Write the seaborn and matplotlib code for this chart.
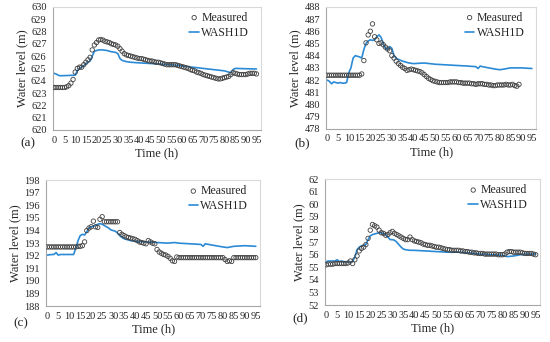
import matplotlib
matplotlib.use("Agg")
import matplotlib.pyplot as plt
import seaborn as sns

# ---- data (hourly measured, WASH1D at knot times) ----
meas_a = [623.45, 623.45, 623.45, 623.45, 623.45, 623.45, 623.5, 623.6, 623.8, 624.1,
          624.7, 625.0, 625.1, 625.1, 625.3, 625.5, 625.7, 625.9, 626.5, 626.9,
          627.1, 627.3, 627.35, 627.3, 627.2, 627.15, 627.1, 627.0, 626.95, 626.9,
          626.8, 626.6, 626.4, 626.2, 626.1, 626.05, 626.0, 625.95, 625.9, 625.85,
          625.8, 625.8, 625.75, 625.7, 625.65, 625.6, 625.6, 625.55, 625.5, 625.5,
          625.45, 625.4, 625.35, 625.3, 625.3, 625.3, 625.3, 625.3, 625.25, 625.2,
          625.15, 625.1, 625.05, 625.0, 624.9, 624.85, 624.8, 624.7, 624.65, 624.6,
          624.5, 624.45, 624.4, 624.35, 624.3, 624.25, 624.2, 624.15, 624.15, 624.2,
          624.25, 624.3, 624.35, 624.5, 624.65, 624.6, 624.55, 624.5, 624.5, 624.5,
          624.5, 624.55, 624.6, 624.6, 624.6, 624.55]
wash_a_t = [0, 1, 2, 3, 10, 11, 12, 13, 14, 15, 16, 17, 18, 19, 21, 23, 25, 27, 29, 30,
            31, 32, 34, 36, 40, 45, 50, 55, 60, 65, 70, 75, 80, 82, 83, 84, 85, 95]
wash_a = [624.6, 624.55, 624.45, 624.4, 624.45, 624.8, 625.0, 625.1, 625.2, 625.4,
          625.5, 625.6, 626.0, 626.4, 626.5, 626.5, 626.45, 626.35, 626.3, 626.2,
          625.8, 625.65, 625.55, 625.5, 625.45, 625.4, 625.35, 625.3, 625.2, 625.1,
          625.0, 624.9, 624.8, 624.7, 624.65, 624.9, 625.0, 624.95]

meas_b = [482.4] * 16 + [
          482.5, 483.6, 485.05, 485.7,
          486.0, 486.6, 485.55, 485.3, 485.0, 485.05, 484.9, 484.7, 484.55, 484.4,
          484.0, 483.8, 483.55, 483.35, 483.2, 483.05, 482.95, 482.8, 482.85, 482.9,
          482.85, 482.8, 482.75, 482.7, 482.6, 482.45, 482.3, 482.15, 482.05, 481.95,
          481.9, 481.85, 481.8, 481.8, 481.8, 481.8, 481.8, 481.85, 481.85, 481.85,
          481.85, 481.8, 481.8, 481.75, 481.75, 481.75, 481.75, 481.7, 481.7, 481.65,
          481.7, 481.7, 481.7, 481.65, 481.65, 481.6, 481.6, 481.55, 481.55, 481.6,
          481.6, 481.6, 481.6, 481.65, 481.6, 481.6, 481.65, 481.55, 481.5, 481.65]
wash_b_t = [0, 1, 2, 3, 4, 5, 6, 7, 8, 9, 10, 11, 12, 13, 15, 16, 17, 18, 19, 20,
            21, 22, 23, 24, 25, 26, 27, 28, 29, 30, 31, 32, 33, 35, 38, 40, 45, 50, 55, 60,
            65, 69, 70, 71, 72, 75, 78, 80, 82, 85, 90, 95]
wash_b = [482.0, 481.9, 481.7, 481.85, 481.8, 481.75, 481.8, 481.75, 481.75, 481.8,
          482.6, 483.0, 483.8, 484.0, 483.9, 483.8, 484.5, 485.0, 485.2, 485.3,
          485.25, 485.3, 485.55, 485.7, 485.5, 485.0, 484.6, 484.5, 484.75, 484.6,
          484.0, 483.8, 483.7, 483.55, 483.4, 483.35, 483.4, 483.3, 483.25, 483.2,
          483.15, 483.1, 482.95, 483.15, 483.1, 483.0, 482.9, 482.85, 482.9, 483.0,
          483.0, 482.95]

meas_c = [192.7] * 14 + [
          192.75, 192.75, 192.8, 193.1, 194.0, 194.2,
          194.3, 194.75, 194.3, 194.25, 194.9, 195.1, 194.7, 194.7, 194.7, 194.7,
          194.7, 194.7, 194.7, 193.85, 193.7, 193.6, 193.5, 193.45, 193.4, 193.35,
          193.3, 193.2, 193.1, 193.05, 193.0, 192.95, 193.2, 193.1, 193.0, 192.95,
          192.5, 192.3, 192.2, 192.1, 192.05, 191.95, 191.8, 191.6, 191.55, 191.9] + [191.85] * 21 + [
          191.7, 191.55, 191.6, 191.55] + [191.85] * 11
wash_c_t = [0, 2, 3, 4, 5, 6, 12, 13, 14, 15, 16, 17, 18, 19, 20, 21, 22, 23, 24, 25,
            26, 27, 28, 29, 30, 31, 32, 33, 34, 35, 36, 38, 40, 45, 50, 55, 58, 60, 65, 70,
            71, 72, 75, 80, 82, 85, 90, 95]
wash_c = [192.05, 192.1, 192.1, 192.25, 192.05, 192.1, 192.1, 192.6, 193.2, 193.6,
          193.7, 193.65, 193.9, 194.2, 194.3, 194.35, 194.4, 194.5, 194.55, 194.5,
          194.4, 194.3, 194.2, 194.05, 194.0, 193.95, 193.8, 193.6, 193.45, 193.35,
          193.3, 193.2, 193.15, 193.1, 193.05, 193.0, 193.05, 193.0, 192.95, 192.9,
          192.75, 192.95, 192.85, 192.7, 192.65, 192.75, 192.8, 192.75]

meas_d = [55.2, 55.25, 55.25, 55.25, 55.3, 55.3, 55.3, 55.3, 55.3, 55.3,
          55.35, 55.5, 55.3, 55.6, 55.9, 56.3, 56.5, 56.6, 56.8, 57.3,
          57.95, 58.4, 58.3, 58.2, 57.95, 57.75, 57.7, 57.55, 57.6, 57.75,
          57.85, 57.7, 57.6, 57.5, 57.4, 57.3, 57.2, 57.2, 57.4, 57.2,
          57.1, 57.05, 57.0, 56.95, 56.85, 56.8, 56.75, 56.75, 56.7, 56.65,
          56.6, 56.6, 56.55, 56.5, 56.45, 56.4, 56.4, 56.35, 56.35, 56.35,
          56.35, 56.3, 56.3, 56.25, 56.25, 56.2, 56.2, 56.15, 56.15, 56.1,
          56.1, 56.1, 56.05, 56.05, 56.05, 56.05, 56.05, 56.05, 56.0, 56.0,
          56.0, 56.05, 56.2, 56.25, 56.25, 56.2, 56.2, 56.2, 56.2, 56.15,
          56.1, 56.1, 56.1, 56.1, 56.05, 56.0]
wash_d_t = [0, 1, 4, 5, 6, 7, 8, 11, 12, 13, 14, 15, 16, 17, 18, 19, 20, 21, 22, 23,
            25, 26, 27, 28, 29, 30, 31, 32, 33, 34, 35, 36, 38, 40, 45, 50, 55, 60, 65, 70,
            75, 80, 82, 85, 88, 90, 95]
wash_d = [55.45, 55.5, 55.5, 55.6, 55.45, 55.5, 55.45, 55.4, 55.5, 55.8,
          56.4, 56.6, 56.7, 56.75, 56.8, 57.2, 57.5, 57.6, 57.65, 57.7,
          57.75, 57.7, 57.6, 57.4, 57.2, 57.2, 57.15, 57.0, 56.8, 56.6,
          56.45, 56.4, 56.35, 56.35, 56.3, 56.25, 56.2, 56.2, 56.15, 56.05,
          56.0, 55.95, 55.85, 55.9, 56.0, 56.05, 56.05]

panel_labels = ["(a)", "(b)", "(c)", "(d)"]
y_ranges = [(620, 630), (478, 488), (188, 198), (52, 62)]
x_ticks = list(range(0, 96, 5))

sns.set_style("white")
plt.rcParams["font.family"] = ["Liberation Serif", "DejaVu Serif"]

BLUE = "#2b8ad6"


def draw_panel(ax, meas, wash_t, wash, ylim):
    hours = list(range(len(meas)))
    sns.scatterplot(x=hours, y=meas, ax=ax, marker="o", s=10, facecolor="none",
                    edgecolor="#404040", linewidth=0.6, label="Measured", zorder=3)
    sns.lineplot(x=wash_t, y=wash, ax=ax, color=BLUE, linewidth=1.2,
                 label="WASH1D", zorder=2)
    ax.set_xlim(-0.5, 97)
    ax.set_ylim(*ylim)
    ax.set_xticks(x_ticks)
    ax.set_yticks(range(ylim[0], ylim[1] + 1))
    ax.tick_params(axis="x", direction="in", length=2.5, labelsize=7.5, pad=4,
                   color="#a6a6a6")
    ax.tick_params(axis="y", direction="out", length=2.5, labelsize=7.5, pad=2,
                   color="#a6a6a6")
    ax.set_xlabel("Time (h)", fontsize=9, labelpad=2)
    ax.set_ylabel("Water level (m)", fontsize=9, labelpad=2)
    for side in ["left", "bottom"]:
        ax.spines[side].set_color("#a6a6a6")
        ax.spines[side].set_linewidth(0.8)
    for side in ["top", "right"]:
        ax.spines[side].set_color("#d9d9d9")
        ax.spines[side].set_linewidth(0.8)
    ax.legend(loc="upper right", bbox_to_anchor=(0.95, 0.97), frameon=False,
              fontsize=8.5, handlelength=0.8, handletextpad=0.2, borderaxespad=0,
              borderpad=0.1, labelspacing=0.25, markerscale=1.0)


fig = plt.figure(figsize=(5.5, 3.42), dpi=100)
positions = [(0.096, 0.620, 0.378, 0.360),
             (0.593, 0.623, 0.382, 0.357),
             (0.084, 0.105, 0.389, 0.368),
             (0.591, 0.108, 0.391, 0.368)]
meas_all = [meas_a, meas_b, meas_c, meas_d]
wash_t_all = [wash_a_t, wash_b_t, wash_c_t, wash_d_t]
wash_all = [wash_a, wash_b, wash_c, wash_d]
label_pos = [(0.051, 0.582), (0.549, 0.582), (0.038, 0.056), (0.545, 0.070)]

for i in range(4):
    ax = fig.add_axes(positions[i])
    draw_panel(ax, meas_all[i], wash_t_all[i], wash_all[i], y_ranges[i])
    fig.text(label_pos[i][0], label_pos[i][1], panel_labels[i], fontsize=9.5,
             ha="center", va="center")

fig.savefig("out.png", dpi=100)
